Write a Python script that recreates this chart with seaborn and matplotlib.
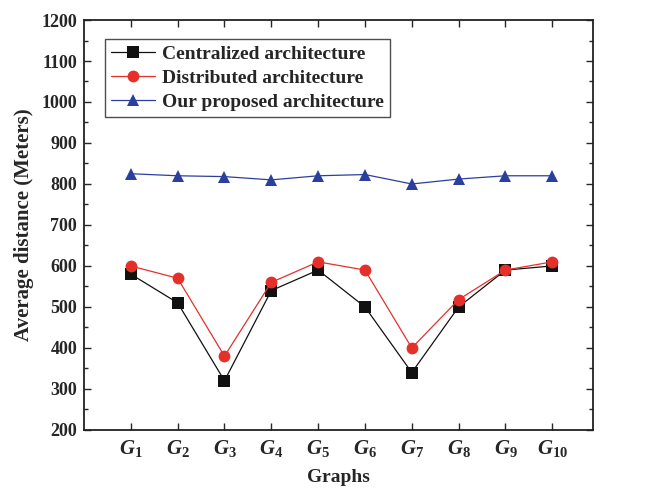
import matplotlib
matplotlib.use("Agg")
import matplotlib.pyplot as plt
import seaborn as sns
import pandas as pd
from matplotlib.ticker import MultipleLocator

graphs = [f"$G_{{{i}}}$" for i in range(1, 11)]
graph_idx = list(range(1, 11))
centralized = [580, 510, 320, 540, 590, 500, 340, 500, 590, 600]
distributed = [600, 570, 380, 560, 610, 590, 400, 518, 590, 610]
proposed = [825, 820, 818, 810, 820, 823, 800, 812, 820, 820]
series_names = ["Centralized architecture", "Distributed architecture", "Our proposed architecture"]

sns.set_theme(style="ticks")
plt.rcParams["font.family"] = ["Liberation Serif", "DejaVu Serif"]
plt.rcParams["font.weight"] = "bold"
plt.rcParams["mathtext.fontset"] = "custom"
plt.rcParams["mathtext.rm"] = "Liberation Serif:bold"
plt.rcParams["mathtext.it"] = "Liberation Serif:italic:bold"
plt.rcParams["mathtext.bf"] = "Liberation Serif:bold"

df = pd.DataFrame({
    "x": graph_idx * 3,
    "y": centralized + distributed + proposed,
    "series": sum([[n] * 10 for n in series_names], []),
})

fig = plt.figure(figsize=(6.46, 4.88), dpi=100)
ax = fig.add_axes([0.130, 0.119, 0.788, 0.840])
palette = {series_names[0]: "#111111", series_names[1]: "#e5302a", series_names[2]: "#2b3f9e"}
markers = {series_names[0]: "s", series_names[1]: "o", series_names[2]: "^"}
sns.lineplot(data=df, x="x", y="y", hue="series", style="series", palette=palette,
             markers=markers, dashes=False, markersize=8.5, linewidth=0.9,
             markeredgewidth=0, ax=ax)

ax.set_xlim(0, 10.87)
ax.set_ylim(200, 1200)
ax.set_xticks(graph_idx)
ax.set_xticklabels(graphs, fontsize=15)
ax.yaxis.set_major_locator(MultipleLocator(100))
ax.yaxis.set_minor_locator(MultipleLocator(50))
for lab in ax.get_yticklabels():
    lab.set_fontweight("bold")
    lab.set_fontsize(13)
ax.tick_params(axis="both", which="both", direction="in", top=True, right=True)
ax.tick_params(axis="x", which="major", length=5, width=1, pad=6)
ax.tick_params(axis="y", which="major", length=5, width=1, pad=5)
ax.tick_params(axis="y", which="minor", length=3, width=1)
ax.tick_params(axis="x", which="minor", bottom=False, top=False)
for s in ax.spines.values():
    s.set_linewidth(1.3)
    s.set_color("#222222")

ax.set_xlabel("Graphs", fontsize=14, fontweight="bold", labelpad=7)
ax.set_ylabel("Average distance (Meters)", fontsize=15, fontweight="bold", labelpad=5)

leg = ax.legend(loc="upper left", bbox_to_anchor=(0.041, 0.953), fontsize=14,
                frameon=True, fancybox=False, edgecolor="#222222", borderpad=0.3,
                handlelength=2.3, handletextpad=0.35, labelspacing=0.33, borderaxespad=0)
leg.get_frame().set_linewidth(1.0)
for t in leg.get_texts():
    t.set_fontweight("bold")

fig.savefig("out.png", dpi=100)
